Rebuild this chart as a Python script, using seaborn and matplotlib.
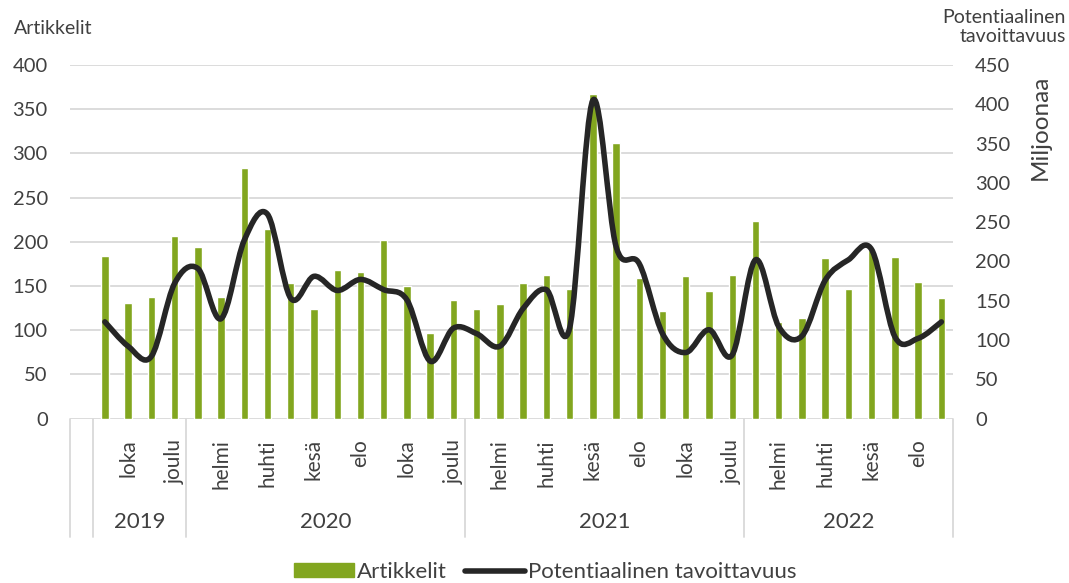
import matplotlib
matplotlib.use("Agg")
import matplotlib.pyplot as plt
from matplotlib.path import Path
from matplotlib.patches import PathPatch, Patch
from matplotlib.lines import Line2D
import seaborn as sns
import pandas as pd

# months Sep 2019 .. Sep 2022 (first slot of the category axis is empty)
years = ["2019"] * 4 + ["2020"] * 12 + ["2021"] * 12 + ["2022"] * 9
months = (["syys", "loka", "marras", "joulu"]
          + ["tammi", "helmi", "maalis", "huhti", "touko", "kesä",
             "heinä", "elo", "syys", "loka", "marras", "joulu"] * 2
          + ["tammi", "helmi", "maalis", "huhti", "touko", "kesä",
             "heinä", "elo", "syys"])
artikkelit = [184, 131, 137, 207,
              194, 138, 283, 214, 153, 124, 168, 166, 202, 150, 97, 134,
              124, 130, 153, 162, 146, 367, 312, 159, 122, 161, 144, 162,
              223, 109, 114, 182, 147, 191, 183, 154, 136]
tavoittavuus = [123, 92, 79, 172,
                191, 127, 227, 260, 153, 181, 163, 177, 164, 151, 73, 115,
                108, 92, 140, 164, 115, 405, 219, 197, 108, 84, 113, 81,
                202, 117, 105, 176, 202, 215, 104, 102, 123]
year_names = ["2019", "2020", "2021", "2022"]

GREEN = "#82a61f"
TEXT = "#404040"
GRID = "#d9d9d9"

sns.set_style("white")
plt.rcParams["font.family"] = ["Lato", "DejaVu Sans"]

keys = ["blank"] + [f"{y}-{i}" for i, y in enumerate(years)]
df = pd.DataFrame({"key": keys[1:], "artikkelit": artikkelit})

fig = plt.figure(figsize=(10.69, 5.83), dpi=100)
ax = fig.add_axes([70 / 1069, 1 - 418.5 / 583, 883 / 1069, 353.5 / 583])

sns.barplot(data=df, x="key", y="artikkelit", order=keys, color=GREEN,
            saturation=1, width=0.32, ax=ax)
ax.set_xlim(-0.5, len(keys) - 0.5)
ax.set_ylim(0, 400)
ax.set_yticks(range(0, 401, 50))
ax.grid(axis="y", color=GRID, lw=1.3)
ax.set_axisbelow(True)
for s in ax.spines.values():
    s.set_visible(False)
ax.set_xlabel("")
ax.set_ylabel("")
ax.tick_params(axis="y", length=0, pad=16, labelsize=14.5, labelcolor=TEXT)

# month labels, every second category
labels = [""] + months
ax.set_xticks(range(0, len(keys), 2))
ax.set_xticklabels([labels[i] for i in range(0, len(keys), 2)],
                   rotation=90, va="top", ha="center")
ax.tick_params(axis="x", length=0, pad=15, labelsize=15, labelcolor=TEXT)

# year group frame + labels
xt = ax.get_xaxis_transform()
starts = [0]
for i in range(1, len(years)):
    if years[i] != years[i - 1]:
        starts.append(i)
bounds = [-0.5] + [s + 0.5 for s in starts] + [len(keys) - 0.5]
for b in bounds:
    ax.plot([b, b], [0, -0.335], transform=xt, color=GRID, lw=1.3, clip_on=False)
for j, yn in enumerate(year_names):
    lo, hi = bounds[j + 1], bounds[j + 2]
    ax.text((lo + hi) / 2, -0.293, yn, transform=xt, ha="center", va="center",
            fontsize=16, color=TEXT)

# right axis: smoothed line through the points (Bezier, Excel-like)
ax2 = ax.twinx()
ax2.set_ylim(0, 450)
ax2.set_yticks(range(0, 451, 50))
for s in ax2.spines.values():
    s.set_visible(False)
ax2.tick_params(axis="y", length=0, pad=16, labelsize=14.5, labelcolor=TEXT)
ax2.grid(False)

pts = list(zip(range(1, len(keys)), tavoittavuus))
verts = [pts[0]]
codes = [Path.MOVETO]
n = len(pts)
for i in range(n - 1):
    p0 = pts[max(i - 1, 0)]
    p1 = pts[i]
    p2 = pts[i + 1]
    p3 = pts[min(i + 2, n - 1)]
    c1 = (p1[0] + (p2[0] - p0[0]) / 6, p1[1] + (p2[1] - p0[1]) / 6)
    c2 = (p2[0] - (p3[0] - p1[0]) / 6, p2[1] - (p3[1] - p1[1]) / 6)
    verts += [c1, c2, p2]
    codes += [Path.CURVE4] * 3
ax2.add_patch(PathPatch(Path(verts, codes), facecolor="none", edgecolor="#262626",
                        lw=4, capstyle="round", joinstyle="round"))

fig.text(14 / 1069, 1 - 28 / 583, "Artikkelit", fontsize=14, color=TEXT,
         ha="left", va="center")
fig.text(1066 / 1069, 1 - 27 / 583, "Potentiaalinen\ntavoittavuus", fontsize=14,
         color=TEXT, ha="right", va="center", multialignment="right",
         linespacing=1.1)
fig.text(1040 / 1069, 1 - 127 / 583, "Miljoonaa", fontsize=17.5, color=TEXT,
         rotation=90, ha="center", va="center")

handles = [Patch(color=GREEN), Line2D([0], [0], color="#262626", lw=4)]
fig.legend(handles, ["Artikkelit", "Potentiaalinen tavoittavuus"],
           loc="center", bbox_to_anchor=(545 / 1069, 1 - 572 / 583), ncol=2,
           frameon=False, fontsize=16, handlelength=2.7, handleheight=0.6,
           handletextpad=0.15, columnspacing=0.8, labelcolor=TEXT)

fig.savefig("out.png", dpi=100)
